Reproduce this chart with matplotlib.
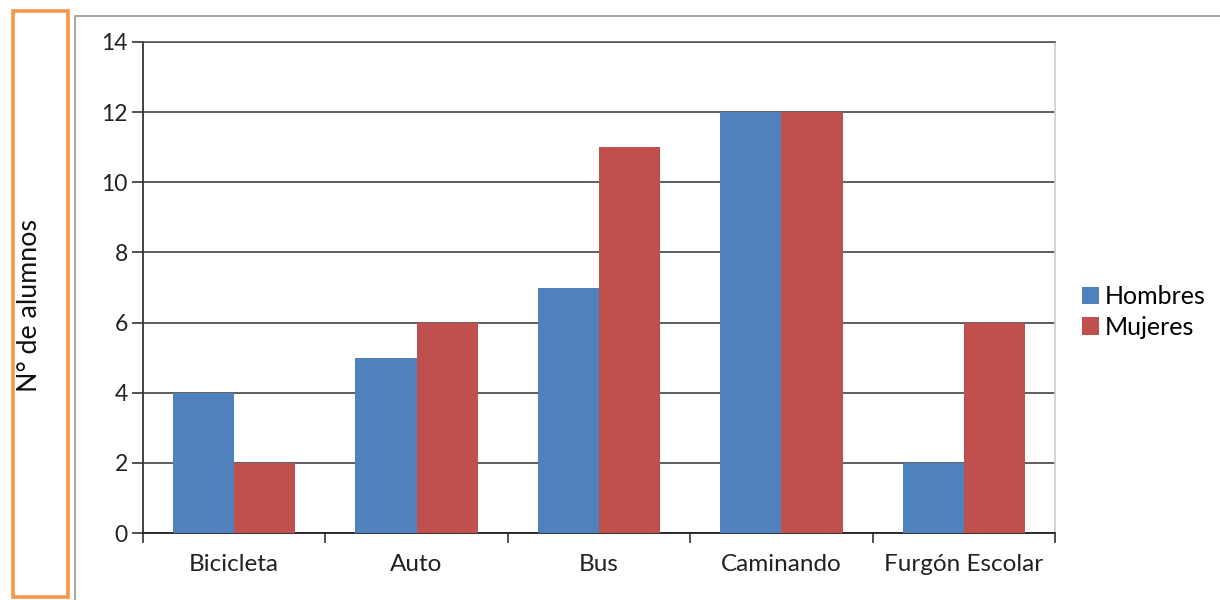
import matplotlib
matplotlib.use("Agg")
import matplotlib.pyplot as plt
from matplotlib.patches import Rectangle
from matplotlib.lines import Line2D
import numpy as np

categories = ["Bicicleta", "Auto", "Bus", "Caminando", "Furgón Escolar"]
hombres = [4, 5, 7, 12, 2]
mujeres = [2, 6, 11, 12, 6]
series_names = ["Hombres", "Mujeres"]
colors = ["#4F81BD", "#C0504D"]
yticks = [0, 2, 4, 6, 8, 10, 12, 14]

plt.rcParams['font.family'] = ['Lato', 'DejaVu Sans']

W, H = 1220, 600
fig = plt.figure(figsize=(12.2, 6.0), dpi=100)

def fx(px):
    return px / W

def fy(py):
    return 1 - py / H

ax = fig.add_axes([fx(143), fy(533), fx(1055) - fx(143), fy(42) - fy(533)])

x = np.arange(len(categories))
bw = 0.335
ax.bar(x - bw / 2, hombres, bw, color=colors[0], label=series_names[0], zorder=3)
ax.bar(x + bw / 2, mujeres, bw, color=colors[1], label=series_names[1], zorder=3)

ax.set_xlim(-0.5, len(categories) - 0.5)
ax.set_ylim(0, 14)
ax.set_yticks(yticks)
ax.set_yticklabels([str(v) for v in yticks], fontsize=16.5, color="#222222")
ax.set_xticks(x)
ax.set_xticklabels(categories, fontsize=17.5, color="#222222")
ax.tick_params(axis='x', length=0, pad=15)
ax.tick_params(axis='y', length=8, width=1.2, color="#333333", pad=3)
ax.set_xticks(np.arange(-0.5, len(categories), 1.0), minor=True)
ax.tick_params(axis='x', which='minor', length=7, width=1.2, color="#333333")

ax.yaxis.grid(True, color="#333333", linewidth=1.1, zorder=1)
ax.set_axisbelow(True)

ax.spines['left'].set_color("#333333")
ax.spines['left'].set_linewidth(1.3)
ax.spines['bottom'].set_color("#222222")
ax.spines['bottom'].set_linewidth(1.3)
ax.spines['top'].set_color("#555555")
ax.spines['top'].set_linewidth(1.2)
ax.spines['right'].set_color("#CCCCCC")
ax.spines['right'].set_linewidth(1.2)

handles, labels = ax.get_legend_handles_labels()
fig.legend(handles, labels, loc='center left', bbox_to_anchor=(fx(1082), fy(312)),
           frameon=False, fontsize=18, handlelength=0.68, handleheight=0.68,
           handletextpad=0.22, labelspacing=0.3, borderaxespad=0, borderpad=0)

# Chart area border (left and top)
fig.add_artist(Line2D([fx(75), fx(75), fx(1220)], [fy(600), fy(16), fy(16)],
                      transform=fig.transFigure, color="#A6A6A6", linewidth=1.4))

# Orange box with axis title
fig.add_artist(Rectangle((fx(13), fy(597)), fx(68) - fx(13), fy(11) - fy(597),
                         transform=fig.transFigure, fill=False,
                         edgecolor="#F79646", linewidth=2.6))
fig.text(fx(30), fy(306), "N° de alumnos", rotation=90, ha='center', va='center',
         fontsize=19.3, color="#111111")

fig.savefig("out.png", dpi=100)
